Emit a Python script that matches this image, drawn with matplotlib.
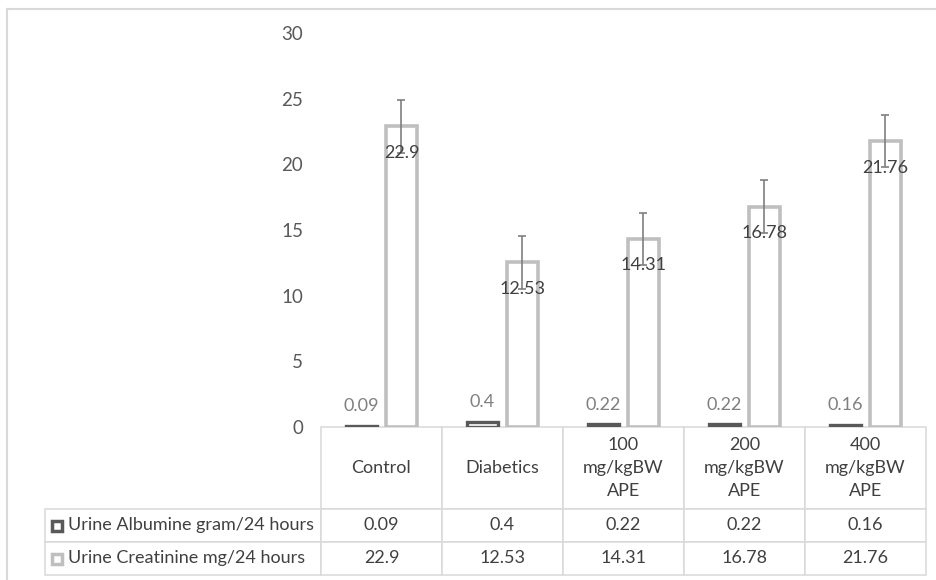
import matplotlib
matplotlib.use('Agg')
import matplotlib.pyplot as plt
from matplotlib.lines import Line2D
import numpy as np

categories = ['Control', 'Diabetics', '100\nmg/kgBW\nAPE', '200\nmg/kgBW\nAPE', '400\nmg/kgBW\nAPE']
series_names = ['Urine Albumine gram/24 hours', 'Urine Creatinine mg/24 hours']
albumin = [0.09, 0.4, 0.22, 0.22, 0.16]
creatinine = [22.9, 12.53, 14.31, 16.78, 21.76]
creatinine_err = [2.0, 2.0, 2.0, 2.0, 2.0]
yticks = [0, 5, 10, 15, 20, 25, 30]

plt.rcParams['font.family'] = ['Lato', 'DejaVu Sans']
plt.rcParams['font.size'] = 13

W, H = 936, 580
fig = plt.figure(figsize=(W / 100, H / 100), dpi=100)

# plot area in pixels (table sits right under it)
left, right, top, bottom = 321, 926, 33, 427
ax = fig.add_axes([left / W, 1 - bottom / H, (right - left) / W, (bottom - top) / H])

x = np.arange(len(categories))
bw = 0.25
off = 0.165
ax.bar(x - off, albumin, bw, color='white', edgecolor='#595959', linewidth=2.4, zorder=2)
ax.bar(x + off, creatinine, bw, color='white', edgecolor='#bfbfbf', linewidth=2.6, zorder=2)
ax.errorbar(x + off, creatinine, yerr=creatinine_err, fmt='none', ecolor='#7f7f7f',
            elinewidth=1.2, capsize=3.2, capthick=1.2, zorder=3)

for xi, v in zip(x, albumin):
    ax.annotate(f'{v:g}', (xi - off, v), xytext=(0, 10.5), textcoords='offset points',
                ha='center', va='baseline', color='#7f7f7f')
for xi, v in zip(x, creatinine):
    ax.annotate(f'{v:g}', (xi + off, v), xytext=(0, -19), textcoords='offset points',
                ha='center', va='center', color='#404040', zorder=4)

ax.set_xlim(-0.5, len(categories) - 0.5)
ax.set_ylim(0, 30)
ax.set_yticks(yticks)
ax.set_xticks([])
ax.tick_params(axis='y', length=0, pad=13, labelcolor='#595959', labelsize=13.5)
for s in ax.spines.values():
    s.set_visible(False)

# data table under the plot, sizes in axes fractions
ax_w, ax_h = right - left, bottom - top
col_w = 1 / len(categories)
lab_w = 276 / ax_w
head_h, row_h = 82 / ax_h, 33 / ax_h
cell_text = [[f'{v:g}' for v in albumin], [f'{v:g}' for v in creatinine]]
tbl = ax.table(cellText=cell_text, colLabels=categories,
               colWidths=[col_w] * len(categories),
               cellLoc='center', loc='bottom')
for i, name in enumerate(series_names):
    tbl.add_cell(i + 1, -1, width=lab_w, height=row_h, text=name, loc='left')
tbl.auto_set_font_size(False)
tbl.set_fontsize(13)
for (r, c), cell in tbl.get_celld().items():
    cell.set_edgecolor('#d9d9d9')
    cell.set_linewidth(1.1)
    cell.set_height(head_h if r == 0 else row_h)
    cell.set_width(lab_w if c == -1 else col_w)
    cell.get_text().set_color('#404040')
    if r == 0:
        cell.get_text().set_linespacing(1.55)
    if c == -1:
        cell.PAD = 23 / 276

# legend keys inside the row label cells
key_x = -lab_w + 11.5 / ax_w
for i, col in enumerate(['#595959', '#bfbfbf']):
    yc = -(head_h + row_h * (i + 0.5))
    ax.plot([key_x], [yc], marker='s', ms=7, mfc='white', mec=col, mew=2.5,
            transform=ax.transAxes, clip_on=False)

# chart area border (left and top visible)
fig.add_artist(Line2D([7 / W, 7 / W], [0, 1 - 9 / H], color='#d9d9d9', lw=1.5,
                      transform=fig.transFigure))
fig.add_artist(Line2D([7 / W, 1], [1 - 9 / H, 1 - 9 / H], color='#d9d9d9', lw=1.5,
                      transform=fig.transFigure))

fig.savefig('out.png', dpi=100)
